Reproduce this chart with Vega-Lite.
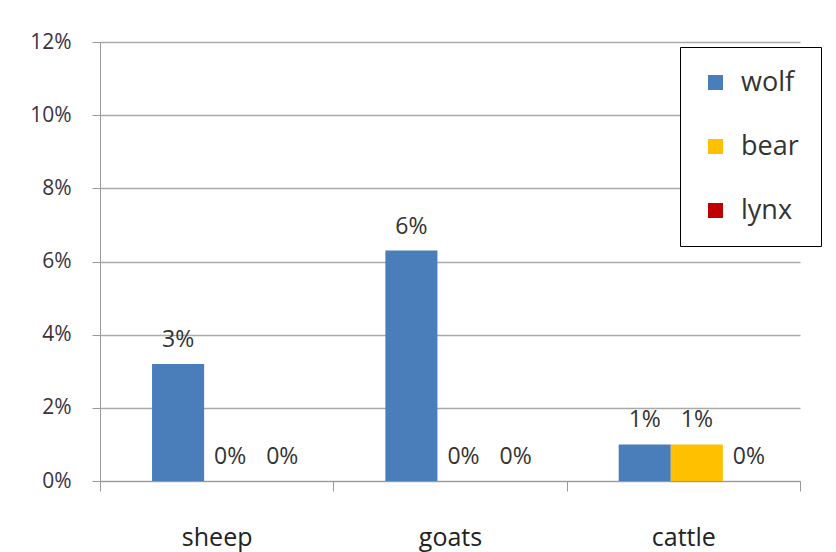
{
  "$schema": "https://vega.github.io/schema/vega-lite/v6.json",
  "width": 700,
  "height": 439,
  "autosize": "none",
  "padding": {"left": 100, "top": 42, "right": 36, "bottom": 71},
  "background": "white",
  "config": {
    "font": "Open Sans",
    "view": {"stroke": null}
  },
  "data": {
    "values": [
      {"livestock": "sheep", "predator": "wolf", "share": 0.032},
      {"livestock": "sheep", "predator": "bear", "share": 0.0},
      {"livestock": "sheep", "predator": "lynx", "share": 0.0},
      {"livestock": "goats", "predator": "wolf", "share": 0.063},
      {"livestock": "goats", "predator": "bear", "share": 0.0},
      {"livestock": "goats", "predator": "lynx", "share": 0.0},
      {"livestock": "cattle", "predator": "wolf", "share": 0.01},
      {"livestock": "cattle", "predator": "bear", "share": 0.01},
      {"livestock": "cattle", "predator": "lynx", "share": 0.0}
    ]
  },
  "encoding": {
    "x": {
      "field": "livestock",
      "type": "nominal",
      "sort": ["sheep", "goats", "cattle"],
      "scale": {"paddingInner": 0, "paddingOuter": 0},
      "axis": {
        "title": null,
        "labelAngle": 0,
        "labelFontSize": 25,
        "labelColor": "#222",
        "labelPadding": 34,
        "domainColor": "#999",
        "tickColor": "#999",
        "tickSize": 10,
        "tickBand": "extent",
        "grid": false
      }
    },
    "xOffset": {
      "field": "predator",
      "type": "nominal",
      "sort": ["wolf", "bear", "lynx"],
      "scale": {"paddingInner": 0, "paddingOuter": 0.74, "align": 0.675}
    },
    "y": {
      "field": "share",
      "type": "quantitative",
      "scale": {"domain": [0, 0.12]},
      "axis": {
        "title": null,
        "format": ".0%",
        "values": [0, 0.02, 0.04, 0.06, 0.08, 0.1, 0.12],
        "labelFontSize": 21,
        "labelColor": "#3a3340",
        "labelPadding": 21,
        "tickSize": 8,
        "tickColor": "#999",
        "domainColor": "#999",
        "gridColor": "#aaa",
        "gridWidth": 1.5
      }
    }
  },
  "layer": [
    {
      "mark": {"type": "bar", "stroke": null},
      "encoding": {
        "color": {
          "field": "predator",
          "type": "nominal",
          "sort": ["wolf", "bear", "lynx"],
          "scale": {"domain": ["wolf", "bear", "lynx"], "range": ["#4a7ebb", "#ffc000", "#c00000"]},
          "legend": {
            "title": null,
            "orient": "none",
            "legendX": 580,
            "legendY": 5,
            "symbolType": "square",
            "symbolSize": 225,
            "symbolStrokeWidth": 0,
            "labelFontSize": 27,
            "labelColor": "#333",
            "rowPadding": 36,
            "padding": 22,
            "strokeColor": "black",
            "fillColor": "white",
            "labelOffset": 12
          }
        }
      }
    },
    {
      "mark": {"type": "text", "baseline": "bottom", "dy": -12, "fontSize": 23, "color": "#333"},
      "encoding": {
        "text": {"field": "share", "type": "quantitative", "format": ".0%"}
      }
    }
  ]
}
